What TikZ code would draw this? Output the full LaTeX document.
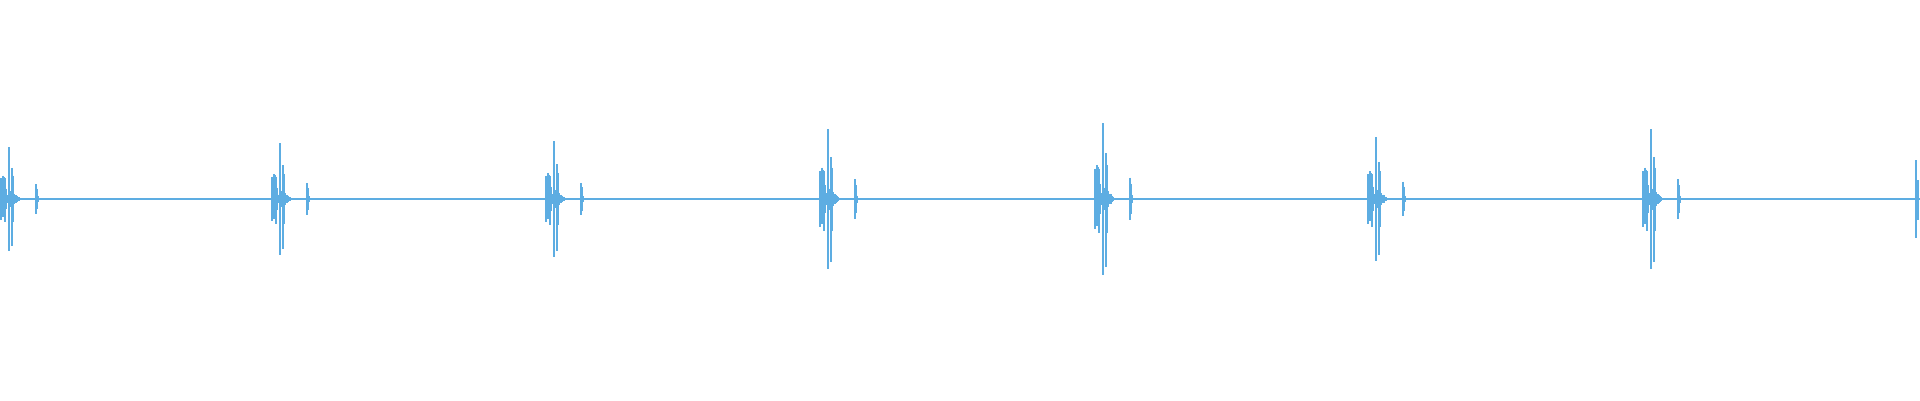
\documentclass[tikz,border=0pt]{standalone}
\definecolor{wave}{RGB}{93,173,226}
\tikzset{spike/.style={draw=wave,line width=1.2pt}, base/.style={draw=wave,line width=1.1pt}}
\newcommand{\wburst}[2]{%
  \foreach \dx/\u/\d in {0/.4/.4,1/.15/.15,2/.45/.35,3/.42/.33,4/.4/.45,5/.2/.2,6/.08/.08,8/1/1,9/.15/.15,10/.05/.05,11/.6/.9,12/.45/.45,13/.1/.1,15/.07/.07,16/.06/.06,17/.04/.04,18/.03/.03,35/.28/.28,36/.2/.2,37/.05/.05}{
    \draw[spike] (#1+\dx,{199-#2*\u}) -- (#1+\dx,{199+#2*\d});
  }%
}
\begin{document}
\begin{tikzpicture}[x=1pt,y=-1pt]
\useasboundingbox (0,0) rectangle (1920,400);
\coordinate (L) at (0,199);
\coordinate (R) at (1920,199);
\draw[base] (L) -- (R);
\wburst{1}{52}
\wburst{272}{56}
\wburst{546}{58}
\wburst{820}{70}
\wburst{1095}{76}
\wburst{1368}{62}
\wburst{1643}{70}
\draw[spike] (1916,160) -- (1916,238);
\draw[spike] (1918,180) -- (1918,220);
\end{tikzpicture}
\end{document}
